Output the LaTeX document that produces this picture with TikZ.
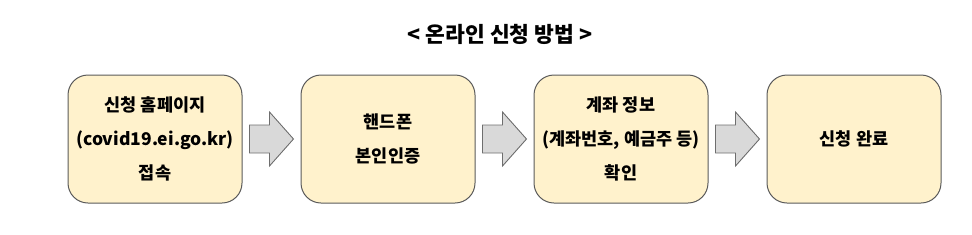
\documentclass[tikz,border=0pt]{standalone}
\usepackage{fontspec}
\setmainfont{Noto Sans CJK KR}
\usepackage{xcolor}
\usepackage{tikz}
\usetikzlibrary{positioning,calc}
\definecolor{stepyellow}{HTML}{FFF2CC}
\definecolor{edgegray}{RGB}{90,90,90}
\definecolor{arrowgray}{RGB}{217,217,217}
\definecolor{arrowedge}{RGB}{110,110,110}

\begin{document}
\begin{tikzpicture}[
 box/.style={draw=edgegray,line width=1pt,rounded corners=20pt,align=center,minimum width=174pt,minimum height=128pt,fill=stepyellow,font=\fontsize{17.5}{34}\selectfont\bfseries},
 blockarr/.style={draw=arrowedge,line width=0.9pt,fill=arrowgray,line join=miter},
 node distance=58pt
]
\useasboundingbox (0,0) rectangle (972pt,-234pt);
\node[box] (site) at (155pt,-139pt) {신청 홈페이지\\(covid19.ei.go.kr)\\접속};
\node[box,right=of site] (phone) {핸드폰\\본인인증};
\node[box,right=of phone] (account) {계좌 정보\\(계좌번호, 예금주 등)\\확인};
\node[box,right=of account] (done) {신청 완료};
\node[font=\fontsize{21.5}{24}\selectfont\bfseries] (title) at (500pt,-34pt) {< 온라인 신청 방법 >};
% block arrows between the steps
\foreach \a/\b in {site/phone,account/done,phone/account}{
  \coordinate (m) at ($(\a.east)!0.5!(\b.west)$);
  \draw[blockarr] ($(m)+(-22pt,14pt)$) -- ++(20pt,0) -- ++(0,13pt) -- ++(24pt,-27pt)
    -- ++(-24pt,-27pt) -- ++(0,13pt) -- ++(-20pt,0) -- cycle;
}
\end{tikzpicture}
\end{document}
